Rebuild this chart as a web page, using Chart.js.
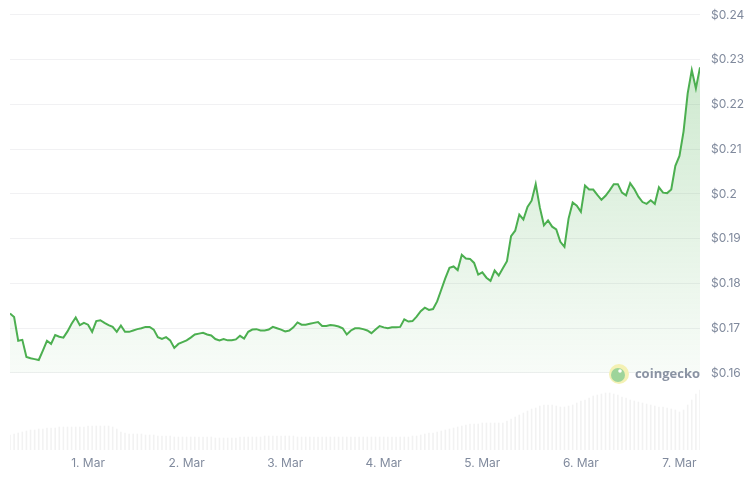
<!DOCTYPE html>
<html>
<head>
<meta charset="utf-8">
<script src="https://cdn.jsdelivr.net/npm/chart.js@4.4.1/dist/chart.umd.min.js"></script>
<style>
html,body{margin:0;padding:0;background:#fff;}
#wrap{width:750px;height:478px;position:relative;}
</style>
</head>
<body>
<div id="wrap"><canvas id="c" width="750" height="478"></canvas></div>
<script>
// Hour offsets relative to 1 Mar 00:00 (first sample ~28 Feb 05:00)
const startHour = -19;

// Price (USD), hourly
const prices = [
  0.1733,0.1725,0.1672,0.1674,0.1636,0.1633,0.1631,0.1629,0.1650,0.1672,
  0.1665,0.1685,0.1681,0.1679,0.1693,0.1710,0.1724,0.1707,0.1712,
  0.1708,0.1692,0.1716,0.1718,0.1712,0.1707,0.1703,0.1692,0.1706,0.1692,
  0.1692,0.1695,0.1698,0.1700,0.1703,0.1703,0.1697,0.1680,0.1676,0.1680,
  0.1673,0.1656,0.1665,0.1669,
  0.1673,0.1679,0.1686,0.1688,0.1690,0.1686,0.1684,0.1676,0.1673,0.1676,
  0.1673,0.1673,0.1675,0.1683,0.1677,0.1692,0.1697,0.1698,0.1695,0.1695,
  0.1697,0.1703,0.1700,0.1697,
  0.1693,0.1695,0.1702,0.1713,0.1708,0.1708,0.1710,0.1712,0.1714,0.1705,
  0.1705,0.1707,0.1706,0.1704,0.1700,0.1686,0.1695,0.1700,0.1700,0.1698,
  0.1695,0.1689,0.1697,0.1705,
  0.1702,0.1700,0.1702,0.1702,0.1703,0.1720,0.1715,0.1716,0.1726,0.1738,
  0.1746,0.1741,0.1743,0.1760,0.1786,0.1812,0.1835,0.1838,0.1830,0.1864,
  0.1856,0.1855,0.1846,0.1820,
  0.1825,0.1813,0.1806,0.1829,0.1818,0.1834,0.1850,0.1906,0.1918,0.1954,
  0.1943,0.1971,0.1985,0.2022,0.1970,0.1930,0.1941,0.1927,0.1921,0.1893,
  0.1882,0.1945,0.1981,0.1974,
  0.1960,0.2019,0.2010,0.2010,0.1998,0.1987,0.1996,0.2008,0.2022,0.2022,
  0.2003,0.1997,0.2024,0.2011,0.1994,0.1982,0.1978,0.1986,0.1978,0.2015,
  0.2003,0.2002,0.2010,0.2063,
  0.2085,0.2140,0.2225,0.2277,0.2236,0.2283
];

// Trading volume (millions USD), hourly
const volumes = [
  15,16,17,18,19,20,20,21,21,22,22,22,23,23,23,23,23,23,23,
  24,24,24,24,24,24,23,21,18,17,16,
  16,16,16,15,15,15,14,14,14,14,13,13,13,13,13,13,13,13,13,13,
  12,12,12,12,12,12,13,13,13,13,13,13,14,14,14,14,14,14,14,14,13,13,13,13,13,13,13,13,13,13,
  13,13,13,13,13,13,13,13,13,13,13,13,13,13,13,13,13,13,14,14,15,16,17,17,
  18,19,20,21,22,23,24,25,26,26,26,27,27,27,27,27,
  27,29,31,33,35,37,39,41,42,44,45,45,45,44,43,43,44,45,47,49,
  50,52,54,55,56,57,57,56,55,53,52,50,49,48,47,46,45,44,43,43,42,41,40,38,40,45,50,56,60
];

// Axis labels
const dayTicks = [0, 24, 48, 72, 96, 120, 144];
const dayLabels = ['1. Mar','2. Mar','3. Mar','4. Mar','5. Mar','6. Mar','7. Mar'];
const priceTicks = [0.16,0.17,0.18,0.19,0.20,0.21,0.22,0.23,0.24];

const pricePts = prices.map((v,i)=>({x:startHour+i, y:v}));
const volPts = volumes.map((v,i)=>({x:startHour+i, y:v}));

const ctx = document.getElementById('c').getContext('2d');

const watermark = {
  id:'watermark',
  afterDatasetsDraw(chart){
    const c = chart.ctx;
    const yS = chart.scales.y;
    const yy = yS.getPixelForValue(0.16);
    const xr = chart.chartArea.right;
    c.save();
    // logo
    c.beginPath(); c.arc(xr-81, yy+1, 10, 0, Math.PI*2); c.fillStyle='#f4f1b4'; c.fill();
    c.beginPath(); c.arc(xr-82, yy+2, 7, 0, Math.PI*2); c.fillStyle='#9ed49a'; c.fill();
    c.beginPath(); c.arc(xr-80, yy-2, 1.8, 0, Math.PI*2); c.fillStyle='#ffffff'; c.fill();
    // text
    c.font = 'bold 13px "Open Sans", Inter, sans-serif';
    c.fillStyle = '#8a93a3';
    c.textAlign = 'right';
    c.textBaseline = 'middle';
    c.fillText('coingecko', xr, yy+1);
    c.restore();
  }
};

new Chart(ctx, {
  data: {
    datasets: [
      {
        type:'line',
        data: pricePts,
        yAxisID:'y',
        borderColor:'#4caf50',
        borderWidth:2,
        pointRadius:0,
        tension:0,
        order:1,
        fill:{value:0.16},
        backgroundColor:(context)=>{
          const ch = context.chart;
          const ca = ch.chartArea;
          if(!ca) return 'rgba(76,175,80,0.1)';
          const yS = ch.scales.y;
          const g = ch.ctx.createLinearGradient(0, yS.getPixelForValue(0.23), 0, yS.getPixelForValue(0.16));
          g.addColorStop(0,'rgba(76,175,80,0.28)');
          g.addColorStop(1,'rgba(76,175,80,0.04)');
          return g;
        }
      },
      {
        type:'bar',
        data: volPts,
        yAxisID:'yv',
        backgroundColor:'rgba(0,0,0,0.05)',
        barThickness:1,
        order:2
      }
    ]
  },
  options: {
    responsive:false,
    animation:false,
    layout:{padding:{left:10, top:10, right:0, bottom:8}},
    plugins:{legend:{display:false}, tooltip:{enabled:false}},
    scales:{
      x:{
        type:'linear',
        min:startHour,
        max:startHour+prices.length-1,
        offset:false,
        grid:{display:false, drawTicks:false},
        border:{display:false},
        afterBuildTicks:(s)=>{ s.ticks = dayTicks.map(v=>({value:v})); },
        afterFit:(s)=>{ s.height = 20; s.paddingLeft = 0; s.paddingRight = 0; },
        ticks:{
          autoSkip:false, maxRotation:0, padding:6,
          color:'#808a9d',
          font:{family:'Inter', size:12},
          callback:(v)=>{ const i = dayTicks.indexOf(v); return i>=0 ? dayLabels[i] : ''; }
        }
      },
      y:{
        position:'right',
        min:0.142793,
        max:0.241117,
        grid:{color:'#f1f1f3', drawTicks:false, lineWidth:1},
        border:{display:false},
        afterBuildTicks:(s)=>{ s.ticks = priceTicks.map(v=>({value:v})); },
        afterFit:(s)=>{ s.width = 50; s.paddingTop = 0; s.paddingBottom = 0; },
        ticks:{
          padding:11,
          color:'#808a9d',
          font:{family:'Inter', size:12},
          callback:(v)=>'$'+Number(v.toFixed(2)).toString()
        }
      },
      yv:{
        display:false,
        min:0,
        max:440
      }
    }
  },
  plugins:[watermark]
});
</script>
</body>
</html>
